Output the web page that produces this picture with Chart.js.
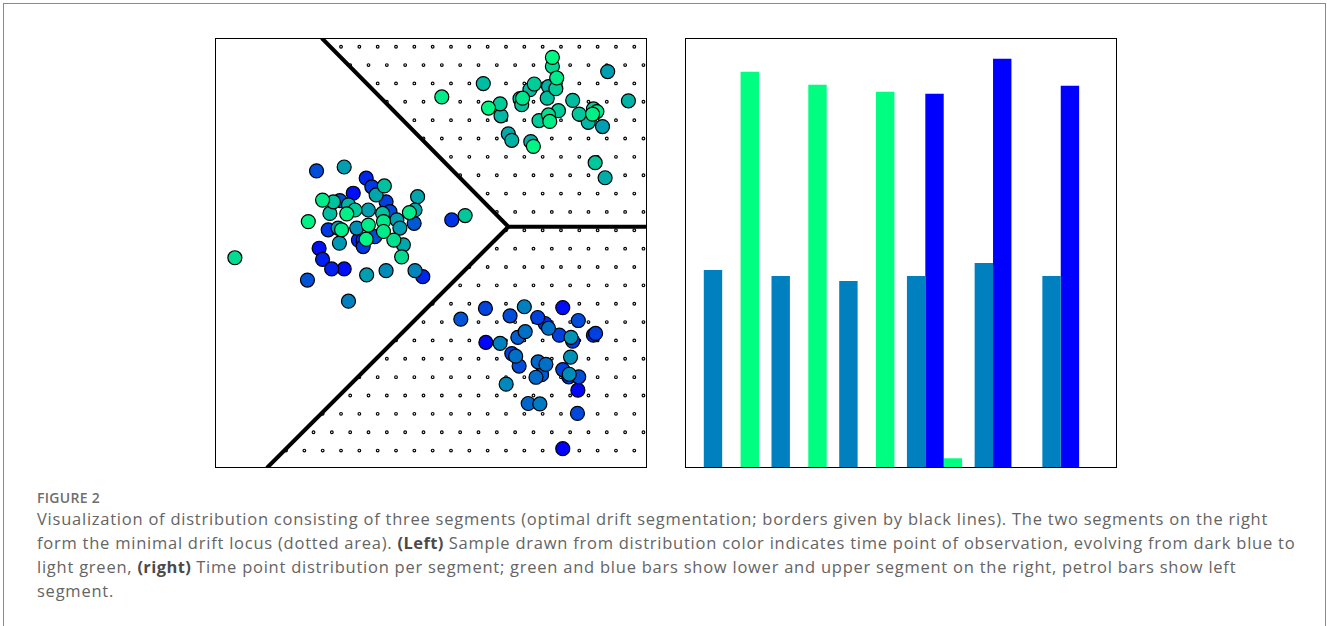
<!DOCTYPE html>
<html>
<head>
<meta charset="utf-8">
<script src="https://cdn.jsdelivr.net/npm/chart.js@4/dist/chart.umd.min.js"></script>
<style>
  html, body { margin: 0; padding: 0; background: #fff; width: 1327px; height: 626px; overflow: hidden; }
  #frame { position: absolute; left: 3px; top: 3px; width: 1323px; height: 700px; border: 1px solid #8a8a8a; box-sizing: border-box; }
  #scatterCanvas { position: absolute; left: 205px; top: 28px; }
  #barCanvas { position: absolute; left: 675px; top: 28px; }
  .cap { position: absolute; left: 37px; font-family: "Open Sans", sans-serif; white-space: nowrap; }
  .label { top: 488px; font-size: 14px; line-height: 20px; font-weight: 600; letter-spacing: 0.3px; color: #6e6e6e; }
  .body { font-size: 16.5px; line-height: 24px; letter-spacing: 0.76px; color: #646464; }
  .body b { font-weight: 700; color: #4a4a4a; letter-spacing: 0.4px; }
</style>
</head>
<body>
<div id="frame"></div>
<canvas id="scatterCanvas" width="452" height="450"></canvas>
<canvas id="barCanvas" width="452" height="450"></canvas>

<div class="cap label">FIGURE 2</div>
<div class="cap body" style="top:507px">Visualization of distribution consisting of three segments (optimal drift segmentation; borders given by black lines). The two segments on the right</div>
<div class="cap body" style="top:531px">form the minimal drift locus (dotted area). <b>(Left)</b> Sample drawn from distribution color indicates time point of observation, evolving from dark blue to</div>
<div class="cap body" style="top:555px">light green, <b>(right)</b> Time point distribution per segment; green and blue bars show lower and upper segment on the right, petrol bars show left</div>
<div class="cap body" style="top:579px">segment.</div>

<script>
// ---- Sample: position (x, y) and observation time t in [0, 1] ----
const sampleX = [
  // upper-right segment
  2.81, 2.81, 2.91, 2.89, 2.72, 2.69, 2.39, 2.29, 2.12, 2.06, 2.10, 1.21, 0.25, 1.60, 1.62, 1.33, 1.79, 1.87,
  2.31, 2.37, 2.50, 2.72, 2.75, 2.95, 3.28, 3.43, 3.64, 3.76, 3.84, 3.74, 3.97, 4.09, 4.57, 3.80, 4.03,
  // lower-right segment
  0.69, 1.26, 1.27, 1.60, 1.83, 2.16, 2.47, 2.64, 2.72, 3.05, 3.41, 2.97, 3.24, 3.28, 3.81, 3.76, 2.18, 2.01,
  1.87, 1.96, 2.04, 2.48, 2.66, 2.56, 2.43, 3.23, 3.05, 3.19, 3.42, 3.20, 3.40, 1.74, 2.25, 2.52, 3.39, 3.05,
  // left segment
  -2.65, -2.01, -1.50, -1.37, -1.08, -1.27, -1.80, -2.51, -2.26, -2.11, -2.34, -1.95, -1.91, -1.76, -1.04, -1.45,
  -1.12, -0.95, -0.31, -0.37, -0.50, -0.39, -2.84, -2.38, -2.15, -2.07, -1.72, -1.45, -1.10, -0.79, -0.72, -1.10,
  -1.30, -1.57, -1.68, -1.50, -0.86, -2.12, -0.64, -0.68, -2.59, -2.51, -2.30, -2.01, -2.86, -1.49, -1.04, -0.37,
  -0.19, -1.91, -4.54, 0.48, 0.79, -1.57
];
const sampleY = [
  4.55, 4.34, 4.07, 3.82, 3.87, 3.60, 3.93, 3.80, 3.60, 3.59, 3.45, 3.94, 3.63, 3.47, 3.19, 3.37, 2.77, 2.62,
  2.59, 2.48, 3.08, 3.21, 3.06, 3.31, 3.55, 3.23, 3.04, 3.35, 3.29, 3.23, 2.94, 4.22, 3.54, 2.10, 1.75,
  -1.54, -1.29, -2.08, -2.10, -1.46, -1.25, -1.50, -1.64, -1.75, -1.27, -1.57, -1.91, -1.96, -2.05, -1.87, -1.91, -1.83, -1.96,
  -2.34, -2.40, -2.63, -2.53, -2.59, -2.83, -2.89, -2.42, -2.71, -2.88, -2.88, -2.82, -3.19, -3.05, -3.50, -3.51, -3.73, -4.55,
  1.91, 2.00, 1.74, 1.54, 1.56, 1.35, 1.39, 1.23, 1.19, 1.22, 0.92, 0.91, 1.12, 1.00, 1.19, 1.00,
  0.92, 0.96, 1.31, 1.00, 0.94, 0.69, 0.73, 0.54, 0.58, 0.54, 0.58, 0.65, 0.73, 0.77, 0.58, 0.50,
  0.38, 0.30, 0.30, 0.32, 0.30, 0.23, 0.19, -0.09, 0.11, -0.15, -0.37, -0.37, -0.63, -0.51, -0.41, -0.41,
  -0.55, -1.12, -0.11, 0.77, 0.87, 0.15
];
const sampleT = [
  0.97, 0.85, 0.92, 0.80, 0.70, 0.75, 0.80, 0.74, 0.90, 0.72, 0.76, 0.74, 0.92, 0.80, 0.72, 0.96, 0.66, 0.70,
  0.68, 0.96, 0.80, 0.88, 0.93, 0.80, 0.74, 0.78, 0.72, 0.82, 0.92, 0.94, 0.62, 0.62, 0.70, 0.78, 0.68,
  0.33, 0.27, 0.02, 0.50, 0.30, 0.50, 0.25, 0.18, 0.44, 0.06, 0.30, 0.25, 0.57, 0.22, 0.25, 0.15, 0.44, 0.37,
  0.25, 0.44, 0.30, 0.40, 0.44, 0.35, 0.42, 0.57, 0.25, 0.22, 0.30, 0.55, 0.02, 0.53, 0.40, 0.48, 0.28, 0.00,
  0.30, 0.62, 0.15, 0.22, 0.76, 0.65, 0.05, 0.92, 0.76, 0.30, 0.74, 0.94, 0.70, 0.78, 0.25, 0.62,
  0.76, 0.28, 0.65, 0.66, 0.92, 0.35, 0.95, 0.22, 0.62, 0.92, 0.56, 0.92, 0.90, 0.62, 0.62, 0.92,
  0.30, 0.20, 0.15, 0.96, 0.88, 0.60, 0.66, 0.86, 0.06, 0.12, 0.12, 0.06, 0.32, 0.62, 0.55, 0.52,
  0.15, 0.50, 0.86, 0.20, 0.78, 0.22
];

// ---- Segment borders (polylines in data coordinates) ----
const upperBorderX = [-2.53, 1.79, 5.0];
const upperBorderY = [5.0, 0.61, 0.61];
const lowerBorderX = [-3.80, 1.79];
const lowerBorderY = [-5.0, 0.61];

// ---- Time point distribution per segment (density per time bin) ----
const timeBins = [0, 1, 2, 3, 4, 5];
const leftSegment  = [1.019, 0.988, 0.962, 0.988, 1.055, 0.988];
const upperSegment = [0, 0, 0, 1.926, 2.106, 1.967];
const lowerSegment = [2.039, 1.972, 1.936, 0.050, 0, 0];

// matplotlib "winter" colour map: blue (t=0) to spring green (t=1)
function winter(t) {
  return 'rgb(0,' + Math.round(255 * t) + ',' + Math.round(255 * (1 - 0.5 * t)) + ')';
}

// Later observations are plotted on top of earlier ones
const order = sampleT.map((t, i) => i).sort((a, b) => sampleT[a] - sampleT[b]);
const samplePoints = order.map(i => ({ x: sampleX[i], y: sampleY[i] }));
const sampleColors = order.map(i => winter(sampleT[i]));

const toPts = (xs, ys) => xs.map((x, i) => ({ x, y: ys[i] }));

// Horizontal position of the segment border at height y
function borderXAt(y) {
  const vy = upperBorderY[1];
  if (y >= vy) {
    const t = (upperBorderY[0] - y) / (upperBorderY[0] - vy);
    return upperBorderX[0] + t * (upperBorderX[1] - upperBorderX[0]);
  }
  const t = (y - lowerBorderY[0]) / (vy - lowerBorderY[0]);
  return lowerBorderX[0] + t * (lowerBorderX[1] - lowerBorderX[0]);
}

// Dotted hatch marking the minimal drift locus (staggered lattice of small rings)
const hatchPlugin = {
  id: 'locusHatch',
  beforeDatasetsDraw(chart) {
    const { ctx, chartArea: a, scales: { x, y } } = chart;
    const dx = 0.4243, dy = 0.4269, x0 = -2.083, y0 = 4.797;
    ctx.save();
    ctx.beginPath();
    ctx.rect(a.left, a.top, a.right - a.left, a.bottom - a.top);
    ctx.clip();
    ctx.strokeStyle = '#000';
    ctx.fillStyle = '#fff';
    ctx.lineWidth = 1.15;
    for (let r = 0; r < 26; r++) {
      const yy = y0 - r * dy;
      const shift = (r % 2) ? dx / 2 : 0;
      for (let k = -20; k < 20; k++) {
        const xx = x0 + shift + k * dx;
        if (xx < -5.3 || xx > 5.3) continue;
        if (xx <= borderXAt(yy)) continue;
        ctx.beginPath();
        ctx.arc(x.getPixelForValue(xx), y.getPixelForValue(yy), 1.35, 0, Math.PI * 2);
        ctx.fill();
        ctx.stroke();
      }
    }
    ctx.restore();
  }
};

// Thin black box around the plotting area
const framePlugin = {
  id: 'axesFrame',
  afterDraw(chart) {
    const { ctx, chartArea: a } = chart;
    ctx.save();
    ctx.strokeStyle = '#000';
    ctx.lineWidth = 1;
    ctx.strokeRect(a.left + 0.5, a.top + 0.5, a.right - a.left - 1, a.bottom - a.top - 1);
    ctx.restore();
  }
};

const commonOptions = {
  responsive: false,
  animation: false,
  events: [],
  layout: { padding: 10 },
  plugins: { legend: { display: false }, tooltip: { enabled: false } }
};

new Chart(document.getElementById('scatterCanvas'), {
  type: 'scatter',
  data: {
    datasets: [
      {
        data: samplePoints,
        pointRadius: 7,
        pointBorderWidth: 1.2,
        pointBorderColor: '#000',
        pointBackgroundColor: sampleColors,
        order: 0
      },
      {
        type: 'line',
        data: toPts(upperBorderX, upperBorderY),
        borderColor: '#000',
        borderWidth: 4,
        pointRadius: 0,
        fill: false,
        tension: 0,
        order: 1
      },
      {
        type: 'line',
        data: toPts(lowerBorderX, lowerBorderY),
        borderColor: '#000',
        borderWidth: 4,
        pointRadius: 0,
        fill: false,
        tension: 0,
        order: 1
      }
    ]
  },
  options: Object.assign({}, commonOptions, {
    scales: {
      x: { type: 'linear', min: -5, max: 5, display: false },
      y: { type: 'linear', min: -5, max: 5, display: false }
    }
  }),
  plugins: [hatchPlugin, framePlugin]
});

new Chart(document.getElementById('barCanvas'), {
  type: 'bar',
  data: {
    datasets: [
      { label: 'left', data: toPts(timeBins, leftSegment), backgroundColor: '#0080bf' },
      { label: 'upper right', data: toPts(timeBins, upperSegment), backgroundColor: '#0000ff' },
      { label: 'lower right', data: toPts(timeBins, lowerSegment), backgroundColor: '#00ff80' }
    ]
  },
  options: Object.assign({}, commonOptions, {
    datasets: { bar: { categoryPercentage: 0.815, barPercentage: 1.0, borderWidth: 0 } },
    scales: {
      x: { type: 'linear', min: -0.685, max: 5.695, offset: false, display: false },
      y: { type: 'linear', min: 0, max: 2.213, display: false }
    }
  }),
  plugins: [framePlugin]
});
</script>
</body>
</html>
